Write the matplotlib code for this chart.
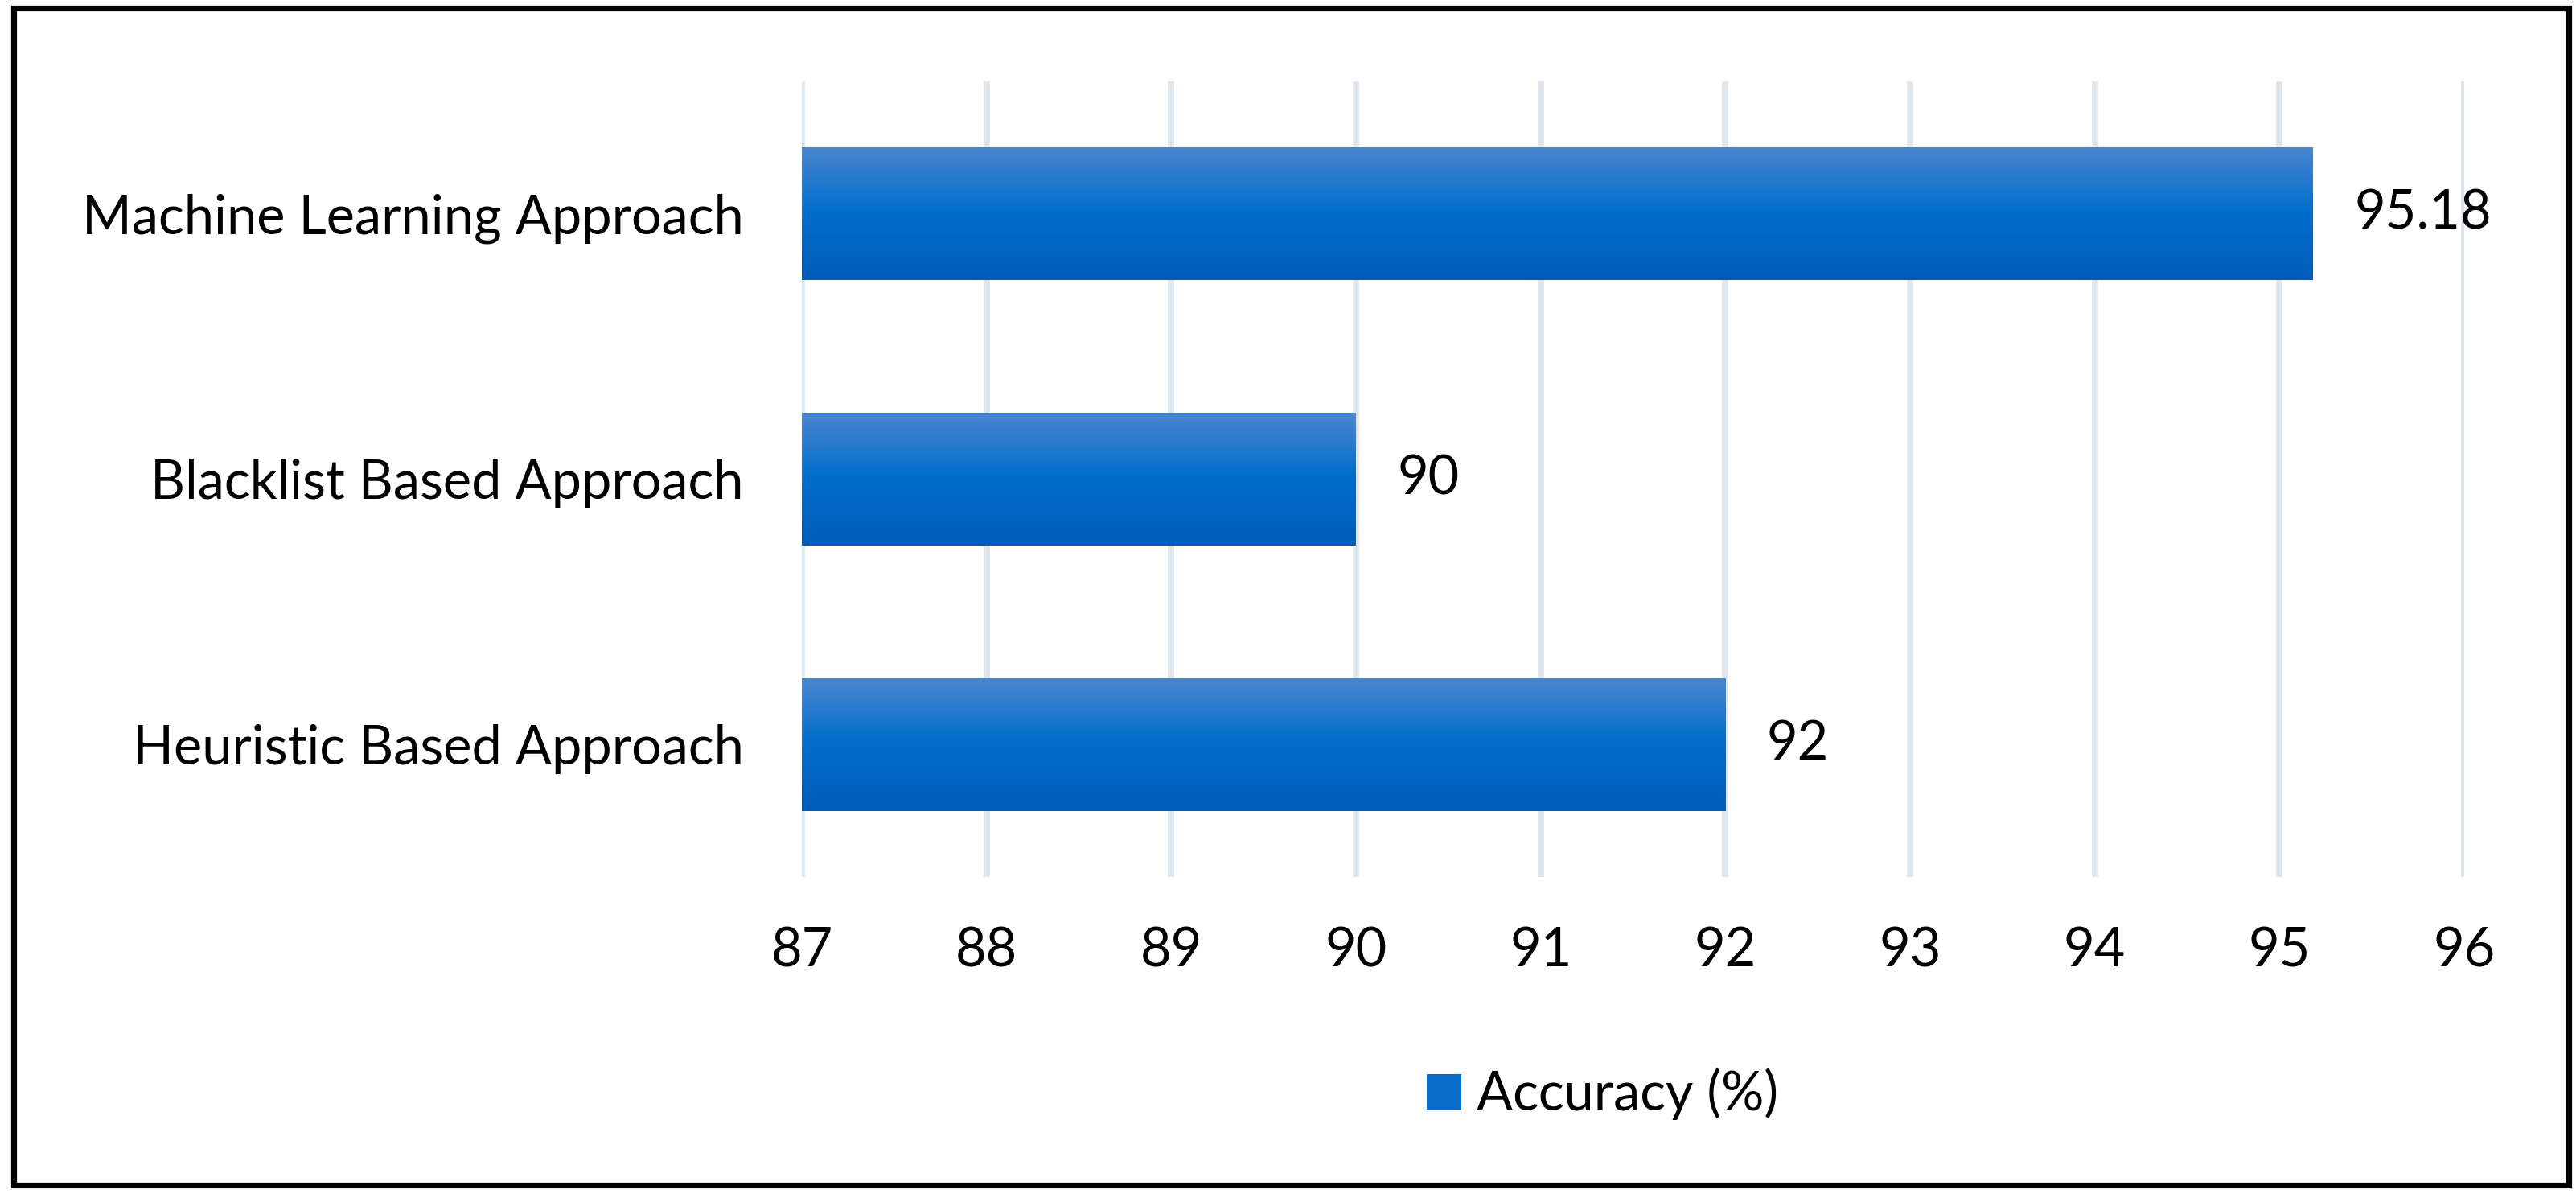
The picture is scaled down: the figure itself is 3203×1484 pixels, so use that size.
import matplotlib
matplotlib.use("Agg")
from matplotlib import pyplot as plt
from matplotlib.colors import LinearSegmentedColormap
from matplotlib.patches import Patch, Rectangle
import numpy as np

# Data (bottom to top, as in the chart)
categories = ["Heuristic Based Approach", "Blacklist Based Approach",
              "Machine Learning Approach"]
accuracy = [92, 90, 95.18]
value_labels = ["92", "90", "95.18"]
x_ticks = [87, 88, 89, 90, 91, 92, 93, 94, 95, 96]
series_name = "Accuracy (%)"

x_min, x_max = x_ticks[0], x_ticks[-1]

plt.rcParams['font.family'] = ['Lato', 'DejaVu Sans']

fig = plt.figure(figsize=(32.03, 14.84), dpi=100)
ax = fig.add_axes([0.3113, 0.2655, 0.9566 - 0.3113, 0.93194 - 0.2655])

# Gradient used to fill the bars
grad_cmap = LinearSegmentedColormap.from_list(
    "bar_grad", [(0.0, "#4a86d0"), (0.48, "#006ecc"), (1.0, "#005cbb")])
grad = np.linspace(0, 1, 256).reshape(-1, 1)

y_pos = np.arange(len(categories))
# bars start at the axis minimum, as in the original
bars = ax.barh(y_pos, [v - x_min for v in accuracy], left=x_min, height=0.5,
               color="#0a6cc9", zorder=2)

for bar in bars:
    x0, y0 = bar.get_x(), bar.get_y()
    w, h = bar.get_width(), bar.get_height()
    im = ax.imshow(grad, cmap=grad_cmap, aspect="auto", origin="upper",
                   extent=[x0, x0 + w, y0, y0 + h], zorder=3)
    im.set_clip_path(bar)

# Value labels
for yp, val, lab in zip(y_pos, accuracy, value_labels):
    ax.annotate(lab, xy=(val, yp), xytext=(37, 0), textcoords="offset points",
                ha="left", va="center", fontsize=48, color="black")

ax.set_xlim(x_min, x_max)
ax.set_ylim(-0.5, 2.5)
ax.set_xticks(x_ticks)
ax.set_xticklabels([str(t) for t in x_ticks])
ax.set_yticks(y_pos)
ax.set_yticklabels(categories)
ax.tick_params(axis="x", length=0, pad=44, labelsize=48)
ax.tick_params(axis="y", length=0, pad=52, labelsize=48)

ax.grid(axis="x", color="#dee5ec", linewidth=5.5, zorder=0)
ax.set_axisbelow(True)
for sp in ax.spines.values():
    sp.set_visible(False)

# Legend
handle = Patch(facecolor="#0a6cc9", edgecolor="none")
fig.legend([handle], [series_name], loc="center", bbox_to_anchor=(0.622, 0.0836),
           frameon=False, fontsize=48, handlelength=0.65, handleheight=0.65,
           handletextpad=0.28)

# Chart border
fig.patches.append(Rectangle((16.5 / 3203, 1 - 1473 / 1484),
                             (3193.5 - 16.5) / 3203, (1473 - 10) / 1484,
                             transform=fig.transFigure, fill=False,
                             edgecolor="black", linewidth=5.2))

fig.savefig("out.png", dpi=100)
